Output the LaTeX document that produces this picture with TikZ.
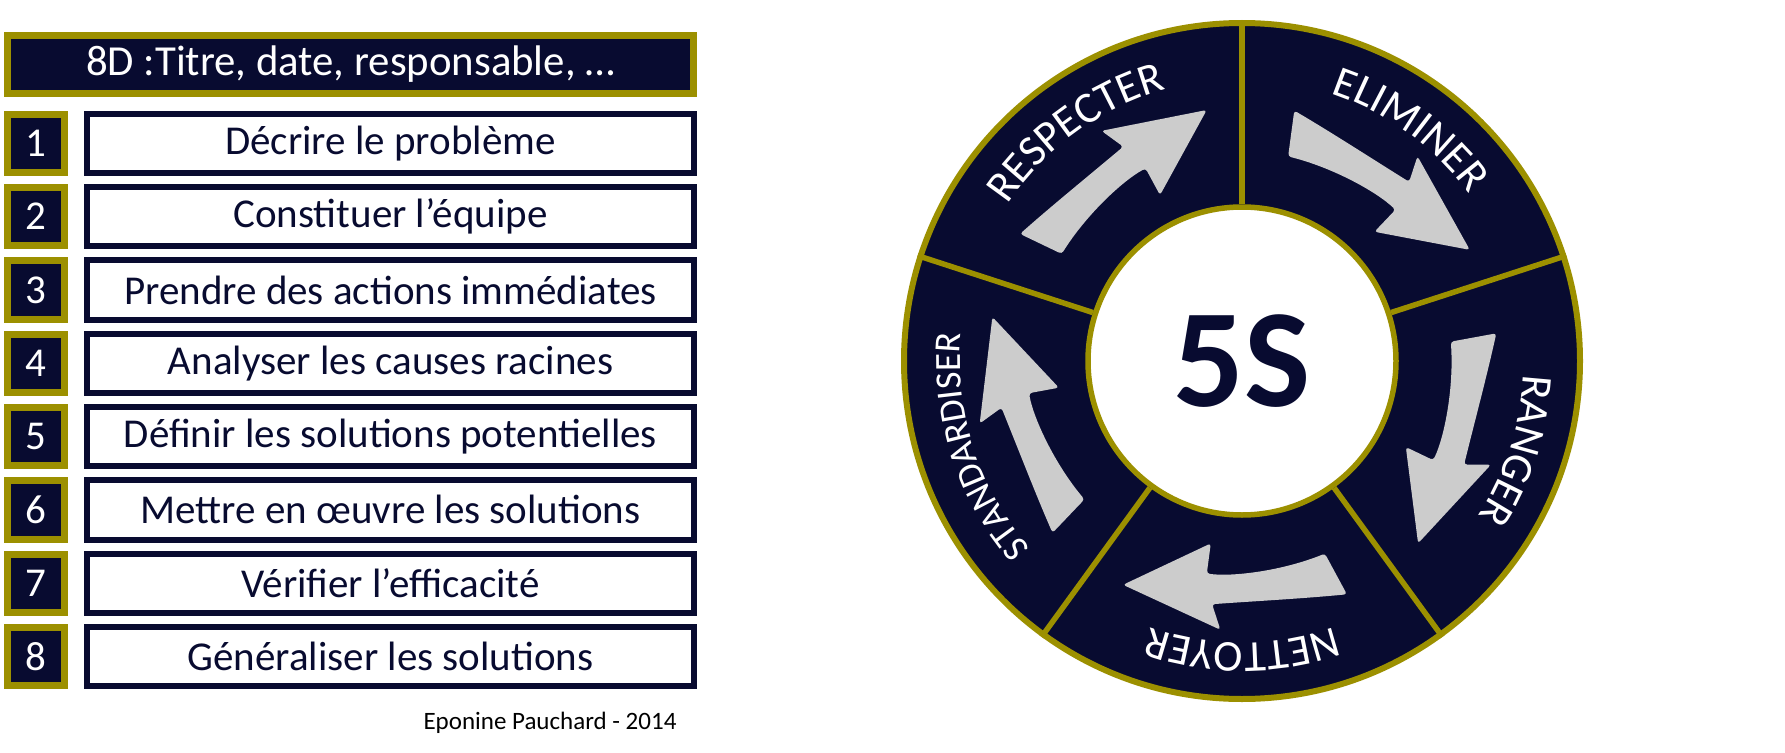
\documentclass[tikz,border=0pt]{standalone}
\usepackage{fontspec}
\setmainfont{Carlito}
\usepackage{tikz}
\usetikzlibrary{positioning, decorations.text}
\definecolor{eightdnavy}{HTML}{080B30}
\definecolor{eightdolive}{HTML}{9C9000}
\definecolor{arrowgrey}{HTML}{CCCCCC}

\begin{document}
\begin{tikzpicture}[
    x=0.5pt, y=0.5pt,
    node distance=4pt and 8pt,
    every node/.style={font=\fontsize{20.5}{24}\selectfont, inner sep=0pt, align=center},
    titlebox/.style={draw=eightdolive, fill=eightdnavy, text=white, line width=3.5pt, minimum width=343pt, minimum height=29pt, font=\fontsize{21.4}{24}\selectfont},
    numbox/.style  ={draw=eightdolive, fill=eightdnavy, text=white, line width=3.5pt, minimum width=28.5pt, minimum height=29.15pt},
    stepbox/.style ={draw=eightdnavy, fill=white, text=eightdnavy, line width=3pt, minimum width=303.5pt, minimum height=29.65pt},
    ring/.style    ={circle, draw=eightdolive, fill=eightdnavy, line width=3pt, minimum size=338pt},
    hub/.style     ={circle, draw=eightdolive, fill=white, text=eightdnavy, line width=2.75pt, minimum size=154pt, font=\fontsize{70}{70}\selectfont\bfseries},
    divider/.style ={draw=eightdolive, line width=2.75pt},
    seglabel/.style 2 args={decorate, decoration={text along path, text align=center, text={|\color{white}\fontsize{#1}{#1}\selectfont|#2}}},
    credit/.style  ={font=\fontsize{12.5}{14}\selectfont, anchor=base},
    swirl/.pic={
      \fill[arrowgrey, rounded corners=1.5pt] (233.3,104.9) .. controls (237.5,62) and (240,15) .. (243.2,-29.9)
        -- (268.8,-21.6) -- (223.8,-119) -- (182.4,-31.2) -- (212.5,-35.2)
        .. controls (216,-10) and (210,40) .. (192.6,82.9) -- cycle;
    }
]
\useasboundingbox (0,0) rectangle (1785,752);

% 8D list: title + eight steps
\node[titlebox] (title) at (350.5,687.5) {8D :Titre, date, responsable, …};

\node[numbox, below right=6.85pt and 0pt of title.south west] (n1) {1};
\node[numbox, below=of n1] (n2) {2};
\node[numbox, below=of n2] (n3) {3};
\node[numbox, below=of n3] (n4) {4};
\node[numbox, below=of n4] (n5) {5};
\node[numbox, below=of n5] (n6) {6};
\node[numbox, below=of n6] (n7) {7};
\node[numbox, below=of n7] (n8) {8};

\node[stepbox, right=of n1] (s1) {Décrire le problème};
\node[stepbox, right=of n2] (s2) {Constituer l’équipe};
\node[stepbox, right=of n3] (s3) {Prendre des actions immédiates};
\node[stepbox, right=of n4] (s4) {Analyser les causes racines};
\node[stepbox, right=of n5] (s5) {Définir les solutions potentielles};
\node[stepbox, right=of n6] (s6) {Mettre en œuvre les solutions};
\node[stepbox, right=of n7] (s7) {Vérifier l’efficacité};
\node[stepbox, right=of n8] (s8) {Généraliser les solutions};

\node[credit] (credit) at (550,23) {Eponine Pauchard - 2014};

% 5S wheel
\node[ring] (ring) at (1242,391) {};
\node[hub] (hub) at (ring.center) {5S};

% arrows, one per segment
\pic[rotate=126] at (ring.center) {swirl};
\pic[rotate=54]  at (ring.center) {swirl};
\pic[rotate=-18] at (ring.center) {swirl};
\pic[rotate=-90] at (ring.center) {swirl};
\pic[rotate=198] at (ring.center) {swirl};

% segment borders
\draw[divider] (hub.90)  -- (ring.90);
\draw[divider] (hub.18)  -- (ring.18);
\draw[divider] (hub.-54) -- (ring.-54);
\draw[divider] (hub.-126) -- (ring.-126);
\draw[divider] (hub.162) -- (ring.162);

% segment labels
\path[seglabel={22}{RESPECTER}]    ([shift={(ring.center)}]162:282) arc[start angle=162, end angle=90, radius=282];
\path[seglabel={22}{ELIMINER}]     ([shift={(ring.center)}]90:282)  arc[start angle=90, end angle=18, radius=282];
\path[seglabel={22}{RANGER}]       ([shift={(ring.center)}]18:282)  arc[start angle=18, end angle=-54, radius=282];
\path[seglabel={22}{NETTOYER}]     ([shift={(ring.center)}]-54:282) arc[start angle=-54, end angle=-126, radius=282];
\path[seglabel={18.5}{STANDARDISER}] ([shift={(ring.center)}]234:282) arc[start angle=234, end angle=162, radius=282];

\end{tikzpicture}
\end{document}
